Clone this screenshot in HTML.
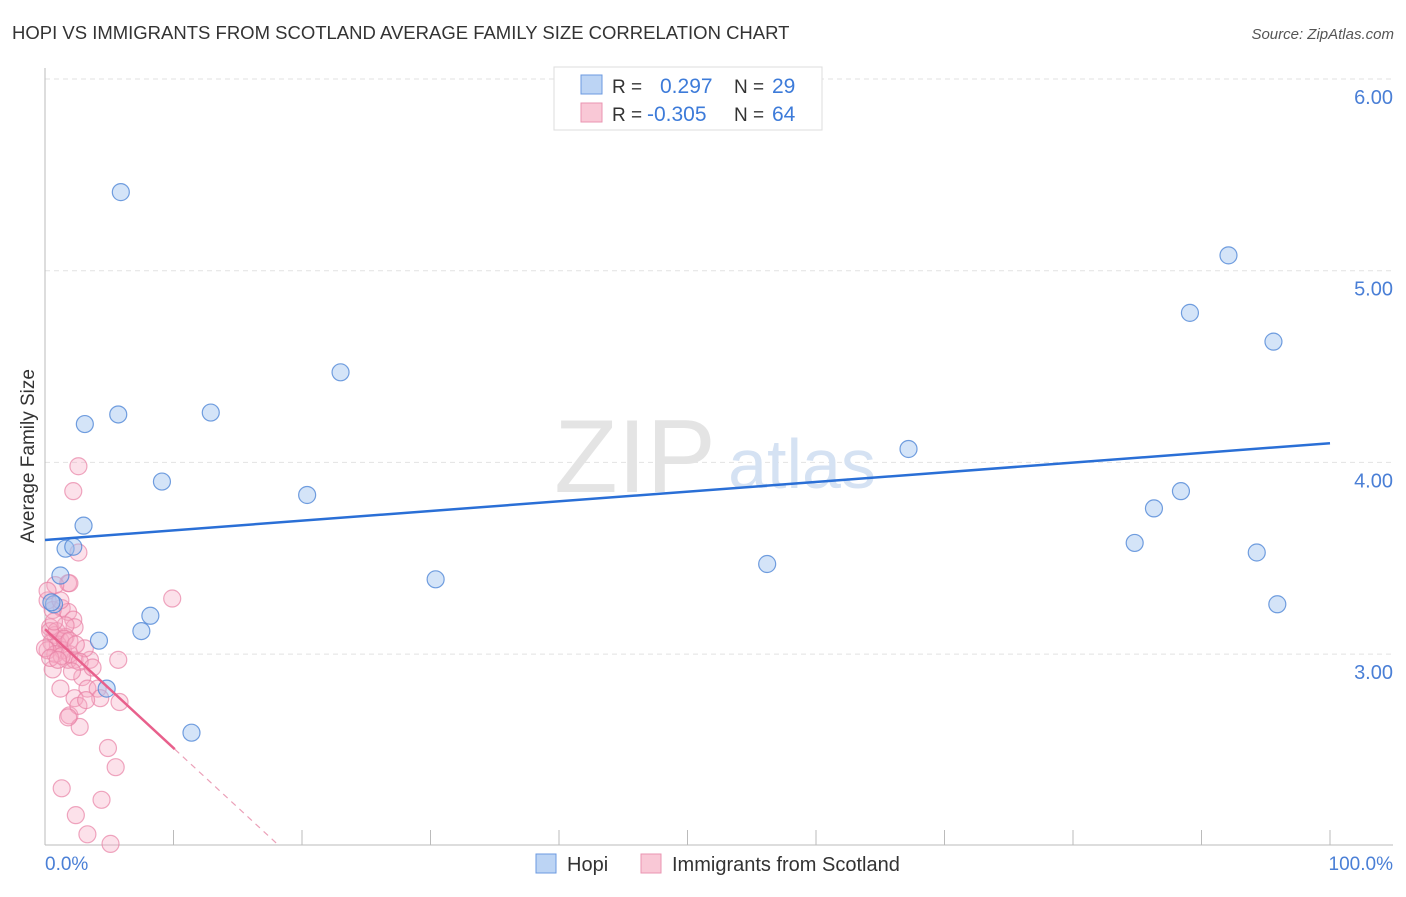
<!DOCTYPE html>
<html><head><meta charset="utf-8"><style>
body{margin:0;background:#fff;font-family:"Liberation Sans",sans-serif;}
svg text{font-family:"Liberation Sans",sans-serif;}
</style></head><body>
<svg id="chart" width="1406" height="892" xmlns="http://www.w3.org/2000/svg">
<text x="12" y="39" font-size="18.5" fill="#333">HOPI VS IMMIGRANTS FROM SCOTLAND AVERAGE FAMILY SIZE CORRELATION CHART</text>
<text x="1394" y="39" font-size="15" fill="#555" font-style="italic" text-anchor="end">Source: ZipAtlas.com</text>
<text transform="translate(34,456) rotate(-90)" font-size="19" fill="#333" text-anchor="middle">Average Family Size</text>
<g id="grid"></g>
<g id="watermark">
<text x="635" y="492" font-size="104" fill="#e4e4e4" font-family="Liberation Serif" text-anchor="middle">ZIP</text>
<text x="802" y="488" font-size="70" fill="#d5e2f3" text-anchor="middle">atlas</text>
</g>
<line x1="45" y1="68" x2="45" y2="845" stroke="#bbb"/>
<line x1="45" y1="845" x2="1393" y2="845" stroke="#bbb"/>
<g id="xticks"></g>
<g id="ylabels"></g>
<text x="45" y="870" font-size="19" fill="#4a7fd6">0.0%</text>
<text x="1393" y="870" font-size="19" fill="#4a7fd6" text-anchor="end">100.0%</text>
<g id="pts"></g>
<g id="trends"></g>
<g>
<rect x="554" y="67" width="268" height="63" fill="#fff" stroke="#ddd"/>
<rect x="581" y="75" width="21" height="19" fill="#bcd4f4" stroke="#6b9ae0"/>
<text x="612" y="93" font-size="19" fill="#333">R = </text><text x="660" y="93" font-size="21" fill="#3d7bd9">0.297</text>
<text x="734" y="93" font-size="19" fill="#333">N = </text><text x="772" y="93" font-size="21" fill="#3d7bd9">29</text>
<rect x="581" y="103" width="21" height="19" fill="#f9c8d6" stroke="#ea94b1"/>
<text x="612" y="121" font-size="19" fill="#333">R = </text><text x="647" y="121" font-size="21" fill="#3d7bd9">-0.305</text>
<text x="734" y="121" font-size="19" fill="#333">N = </text><text x="772" y="121" font-size="21" fill="#3d7bd9">64</text>
</g>
<g>
<rect x="536" y="854" width="20" height="19" fill="#bcd4f4" stroke="#6b9ae0"/>
<text x="567" y="871" font-size="20" fill="#333">Hopi</text>
<rect x="641" y="854" width="20" height="19" fill="#f9c8d6" stroke="#ea94b1"/>
<text x="672" y="871" font-size="20" fill="#333">Immigrants from Scotland</text>
</g>
</svg>
<script>
const yTicks=[3,4,5,6];
const yTickLabels=["3.00","4.00","5.00","6.00"];
const hopiX=[5.9,3.1,5.7,12.9,23.0,9.1,20.4,3.0,1.6,2.2,1.2,0.7,0.5,8.2,7.5,4.2,4.8,11.4,30.4,56.2,67.2,92.1,89.1,95.6,88.4,86.3,84.8,94.3,95.9];
const hopiY=[5.41,4.20,4.25,4.26,4.47,3.90,3.83,3.67,3.55,3.56,3.41,3.26,3.27,3.20,3.12,3.07,2.82,2.59,3.39,3.47,4.07,5.08,4.78,4.63,3.85,3.76,3.58,3.53,3.26];
const scotX=[2.6,2.2,2.6,1.8,1.9,0.8,1.3,1.8,2.2,0.4,2.3,0.8,1.2,1.6,0.5,1.0,1.4,0.2,0.8,1.8,2.3,3.5,5.7,0.6,3.1,2.9,1.2,3.3,4.1,2.3,4.3,5.8,1.9,2.6,2.7,1.8,4.9,5.5,1.3,4.4,2.4,3.3,5.1,9.9,0.2,0.6,0.4,0.0,0.9,1.6,1.9,1.3,0.4,1.0,2.7,3.7,3.2,2.1,1.5,0.7,0.2,1.2,1.9,2.4];
const scotY=[3.98,3.85,3.53,3.37,3.37,3.36,3.24,3.22,3.18,3.14,3.14,3.10,3.07,3.09,3.06,3.05,3.02,3.02,3.00,2.97,2.97,2.97,2.97,2.92,3.03,2.88,2.82,2.82,2.82,2.77,2.77,2.75,2.68,2.73,2.62,2.67,2.51,2.41,2.30,2.24,2.16,2.06,2.01,3.29,3.28,3.23,3.12,3.03,3.12,3.15,3.00,2.99,2.98,2.97,2.96,2.93,2.76,2.91,3.08,3.17,3.33,3.28,3.07,3.05];
const hopiTrend=[3.595,4.10];
const scotTrend=[3.13,-0.062];
const X=v=>45+v*12.85, Y=v=>79+(6-v)*191.7;
const NS="http://www.w3.org/2000/svg";
function mk(t,a,p){const e=document.createElementNS(NS,t);for(const k in a)e.setAttribute(k,a[k]);p.appendChild(e);return e;}
const grid=document.getElementById('grid'),yl=document.getElementById('ylabels');
yTicks.forEach((v,i)=>{
 const l=mk('line',{x1:45,x2:1393,y1:Y(v),y2:Y(v),stroke:'#e2e2e2','stroke-dasharray':'5,4'},grid);
 
 
 const t=mk('text',{x:1393,y:Y(v)+25,'font-size':20,fill:'#4a7fd6','text-anchor':'end'},yl);
 t.textContent=yTickLabels[i];
 
 
});
const xt=document.getElementById('xticks');
for(let i=0;i<=10;i++){const l=mk('line',{x1:X(i*10),x2:X(i*10),y1:830,y2:845,stroke:'#bbb'},xt);
 
 }
const pts=document.getElementById('pts');
scotX.forEach((x,i)=>{const c=mk('circle',{cx:X(x),cy:Y(scotY[i]),r:8.5,fill:'rgba(246,170,196,0.35)',stroke:'rgba(232,130,165,0.7)','stroke-width':1.2},pts);
 
 });
hopiX.forEach((x,i)=>{const c=mk('circle',{cx:X(x),cy:Y(hopiY[i]),r:8.5,fill:'rgba(160,196,240,0.45)',stroke:'rgba(80,135,215,0.8)','stroke-width':1.2},pts);
 
 });
const tr=document.getElementById('trends');
const b=mk('line',{x1:X(0),y1:Y(hopiTrend[0]),x2:X(100),y2:Y(hopiTrend[1]),stroke:'#2a6fd6','stroke-width':2.5},tr);


const sy=x=>scotTrend[0]+scotTrend[1]*x;
const p1=mk('line',{x1:X(0),y1:Y(sy(0)),x2:X(10.1),y2:Y(sy(10.1)),stroke:'#e8608c','stroke-width':2.5},tr);


const xe=(scotTrend[0]-2)/-scotTrend[1];
const p2=mk('line',{x1:X(10.1),y1:Y(sy(10.1)),x2:X(xe),y2:Y(2),stroke:'#eba0b8','stroke-width':1.2,'stroke-dasharray':'6,5'},tr);


</script>
</body></html>
